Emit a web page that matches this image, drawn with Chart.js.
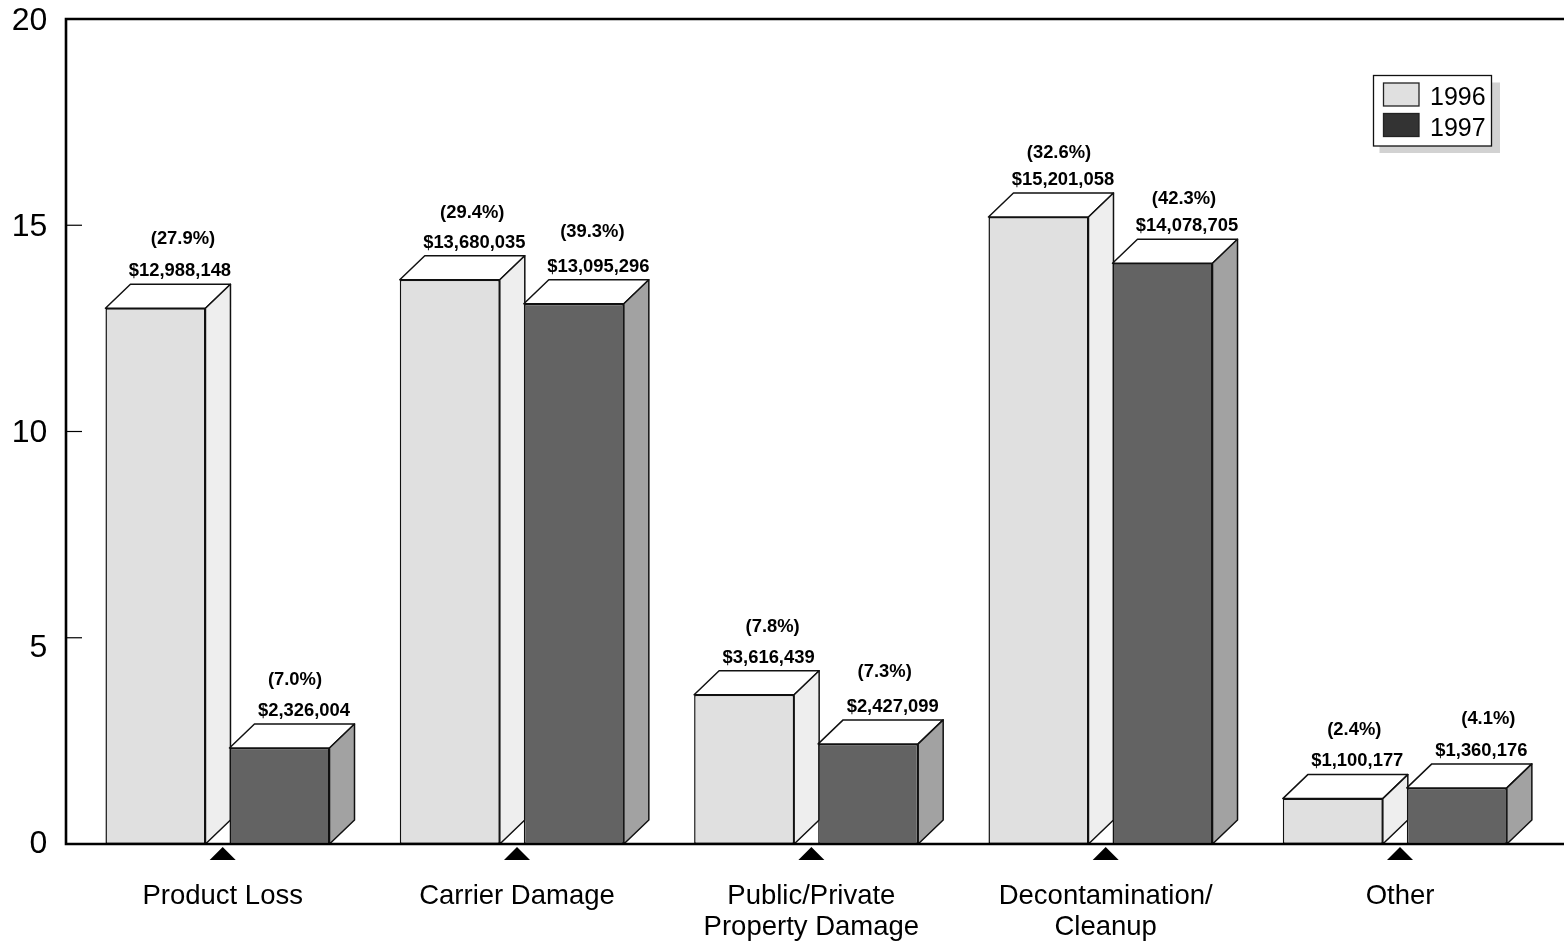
<!DOCTYPE html>
<html><head><meta charset="utf-8">
<style>html,body{margin:0;padding:0;background:#fff}canvas{display:block}</style>
<script src="https://cdn.jsdelivr.net/npm/chart.js@4"></script>
</head><body><canvas id="c" width="1564" height="942"></canvas>
<script>
const categories = [['Product Loss'], ['Carrier Damage'], ['Public/Private', 'Property Damage'], ['Decontamination/', 'Cleanup'], ['Other']];
const yearNames = ['1996', '1997'];
const dollars1996 = [12988148, 13680035, 3616439, 15201058, 1100177];
const dollars1997 = [2326004, 13095296, 2427099, 14078705, 1360176];
const percent1996 = ['(27.9%)', '(29.4%)', '(7.8%)', '(32.6%)', '(2.4%)'];
const percent1997 = ['(7.0%)', '(39.3%)', '(7.3%)', '(42.3%)', '(4.1%)'];
const yTicks = [0, 5, 10, 15, 20];

const FONT = '"Liberation Sans", Arial, sans-serif';
const DX = 25, DY = 24;
const styles = [
  {front: '#e0e0e0', side: '#eeeeee', swatch: '#e0e0e0'},
  {front: '#636363', side: '#a2a2a2', swatch: '#333333'}
];
// hand placement of the percent labels relative to the dollar labels
const pctShift = [
  [[3, 32], [-2, 30], [4, 31], [-4, 27], [-3, 31]],
  [[-9, 31], [-6, 35], [-8, 35], [-3, 27], [7, 32]]
];
const TICK_SHIFT = 5.2;

const threeD = {
  id: 'threeD',
  beforeDraw(chart) {
    // y labels sit slightly under their ticks, the "5" noticeably so
    chart.scales.y.getLabelItems(chart.chartArea).forEach(it => {
      if (it._moved) return;
      it._moved = true;
      it.options.translation[1] += it.label === '5' ? 10 : it.label === '0' ? 0 : 2;
    });
  },
  beforeDatasetsDraw(chart) {
    const c = chart.ctx;
    chart.data.datasets.forEach((ds, di) => {
      chart.getDatasetMeta(di).data.forEach(b => {
        const l = b.x - b.width / 2, r = b.x + b.width / 2, t = b.y, bt = b.base;
        c.save();
        c.lineWidth = 1.5; c.strokeStyle = '#111'; c.lineJoin = 'round';
        c.fillStyle = '#ffffff';
        c.beginPath(); c.moveTo(l, t); c.lineTo(l + DX, t - DY); c.lineTo(r + DX, t - DY); c.lineTo(r, t); c.closePath();
        c.fill(); c.stroke();
        c.fillStyle = styles[di].side;
        c.beginPath(); c.moveTo(r, t); c.lineTo(r + DX, t - DY); c.lineTo(r + DX, bt - DY); c.lineTo(r, bt); c.closePath();
        c.fill(); c.stroke();
        c.restore();
      });
    });
  },
  afterDatasetsDraw(chart) {
    const c = chart.ctx, a = chart.chartArea, xs = chart.scales.x;
    const pcts = [percent1996, percent1997];
    c.save();
    c.fillStyle = '#000'; c.textAlign = 'center'; c.textBaseline = 'middle';
    chart.data.datasets.forEach((ds, di) => {
      chart.getDatasetMeta(di).data.forEach((b, i) => {
        const cx = b.x + DX - 0.5, top = b.y - DY;
        c.font = 'bold 18.4px ' + FONT;
        c.fillText('$' + Math.round(ds.data[i] * 1e6).toLocaleString('en-US'), cx, top - 13.2);
        c.fillText(pcts[di][i], cx + pctShift[di][i][0], top - 13.2 - pctShift[di][i][1]);
      });
    });
    // frame
    c.strokeStyle = '#000'; c.lineWidth = 2.6;
    c.beginPath(); c.moveTo(1564, a.top); c.lineTo(66, a.top); c.lineTo(66, a.bottom); c.lineTo(1564, a.bottom); c.stroke();
    // y ticks
    c.lineWidth = 1.2;
    yTicks.slice(1, -1).forEach(v => { const y = chart.scales.y.getPixelForValue(v); c.beginPath(); c.moveTo(66, y); c.lineTo(82, y); c.stroke(); });
    // category triangles
    c.fillStyle = '#000';
    categories.forEach((_, i) => {
      const x = xs.getPixelForValue(i) + TICK_SHIFT;
      c.beginPath(); c.moveTo(x - 13, a.bottom + 16); c.lineTo(x, a.bottom + 3); c.lineTo(x + 13, a.bottom + 16); c.closePath(); c.fill();
    });
    // legend
    const L = 1373.5, T = 75.5, W = 118, H = 70.5;
    c.fillStyle = '#d2d2d2'; c.fillRect(L + 6, T + 7, W + 2.5, H);
    c.fillStyle = '#fff'; c.fillRect(L, T, W, H);
    c.strokeStyle = '#111'; c.lineWidth = 1.3; c.strokeRect(L, T, W, H);
    chart.data.datasets.forEach((ds, di) => {
      const y = T + 7.5 + di * 30.5;
      c.fillStyle = styles[di].swatch; c.fillRect(1383.5, y, 35.5, 23);
      c.strokeStyle = '#222'; c.lineWidth = 1.3; c.strokeRect(1383.5, y, 35.5, 23);
      c.fillStyle = '#000'; c.font = '25px ' + FONT; c.textAlign = 'left';
      c.fillText(ds.label, 1430, y + 15.5);
    });
    c.restore();
  }
};

new Chart(document.getElementById('c'), {
  type: 'bar',
  data: {
    labels: categories,
    datasets: [
      {label: yearNames[0], data: dollars1996.map(v => v / 1e6), backgroundColor: styles[0].front, borderColor: '#111', borderWidth: 1.5, borderSkipped: false},
      {label: yearNames[1], data: dollars1997.map(v => v / 1e6), backgroundColor: styles[1].front, borderColor: '#111', borderWidth: 1.5, borderSkipped: false}
    ]
  },
  options: {
    responsive: false, animation: false,
    layout: {padding: {top: 19, right: 22, left: 0, bottom: 0}},
    datasets: {bar: {categoryPercentage: 248 / 294.25, barPercentage: 100 / 124}},
    plugins: {legend: {display: false}, title: {display: false}, tooltip: {enabled: false}},
    scales: {
      x: {
        grid: {display: false}, border: {display: false},
        afterFit(s) { s.height = 98; s.paddingLeft = 0; s.paddingRight = 0; },
        ticks: {color: '#000', font: {family: FONT, size: 27.5, lineHeight: 1.127}, padding: 29, labelOffset: TICK_SHIFT, maxRotation: 0, autoSkip: false}
      },
      y: {
        min: 0, max: 20,
        grid: {display: false}, border: {display: false},
        afterFit(s) { s.width = 70.3; s.paddingTop = 0; s.paddingBottom = 0; },
        afterBuildTicks(s) { s.ticks = yTicks.map(v => ({value: v})); },
        ticks: {color: '#000', font: {family: FONT, size: 32}, padding: 15}
      }
    }
  },
  plugins: [threeD]
});
</script></body></html>
